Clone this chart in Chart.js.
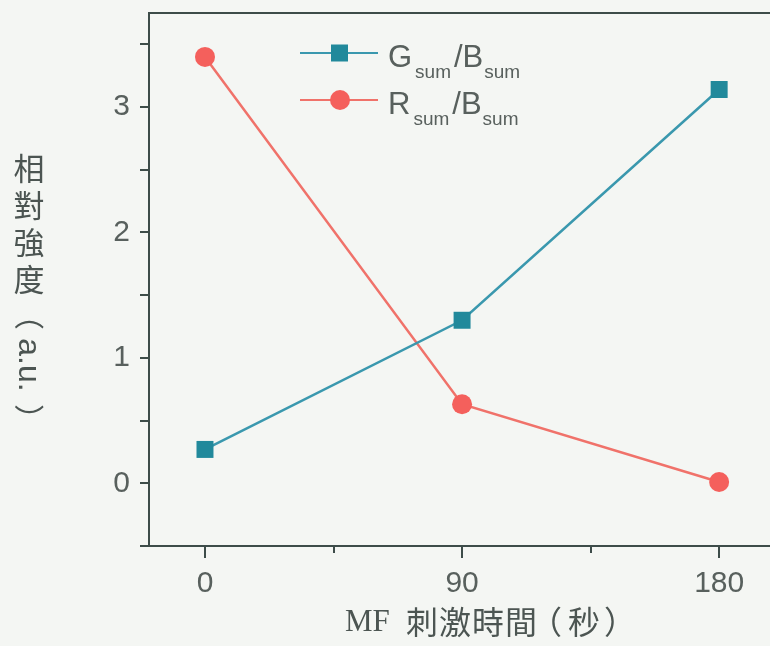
<!DOCTYPE html>
<html>
<head>
<meta charset="utf-8">
<script src="https://cdn.jsdelivr.net/npm/chart.js@4/dist/chart.umd.min.js"></script>
<style>
  html, body { margin: 0; padding: 0; background: #f4f6f3; overflow: hidden; }
  #wrap { width: 770px; height: 646px; overflow: hidden; }
</style>
</head>
<body>
<div id="wrap"><canvas id="chart" width="782" height="646"></canvas></div>
<script>
// stimulation time in seconds
const times = [0, 90, 180];
// relative intensity (a.u.)
const gOverB = [0.27, 1.30, 3.14];
const rOverB = [3.40, 0.63, 0.01];

const xTicks = [0, 45, 90, 135, 180];
const xLabels = ['0', '', '90', '', '180'];
const yTicks = [-0.5, 0, 0.5, 1, 1.5, 2, 2.5, 3, 3.5];
const yLabels = ['', '0', '', '1', '', '2', '', '3', ''];

const AXIS = '#3d4c49';
const TEXT = '#58605d';
const TEAL_LINE = '#3a98ae';
const TEAL_MARK = '#21899b';
const RED_LINE = '#f0726a';
const RED_MARK = '#f4605c';

const canvas = document.getElementById('chart');

function toPoints(xs, ys) {
    return xs.map((x, i) => ({x: x, y: ys[i]}));
}

function noPadding(scale) {
    scale.paddingTop = 0;
    scale.paddingBottom = 0;
    scale.paddingLeft = 0;
    scale.paddingRight = 0;
}

// background, axis frame bits, ticks, titles and legend
const extras = {
    id: 'extras',
    beforeDraw(chart) {
        const ctx = chart.ctx;
        ctx.save();
        ctx.fillStyle = '#f4f6f3';
        ctx.fillRect(0, 0, chart.width, chart.height);
        ctx.restore();
    },
    afterDraw(chart) {
        const ctx = chart.ctx;
        const area = chart.chartArea;
        const xs = chart.scales.x;
        const ys = chart.scales.y;
        ctx.save();
        ctx.strokeStyle = AXIS;
        ctx.lineWidth = 2;

        // top frame line and x axis stub left of y axis
        ctx.beginPath();
        ctx.moveTo(area.left - 1, area.top);
        ctx.lineTo(chart.width, area.top);
        ctx.moveTo(area.left - 9, area.bottom);
        ctx.lineTo(area.left, area.bottom);
        ctx.stroke();

        // ticks
        ctx.beginPath();
        yTicks.forEach(v => {
            const y = Math.round(ys.getPixelForValue(v));
            ctx.moveTo(area.left - 9, y);
            ctx.lineTo(area.left, y);
        });
        xTicks.forEach((v, i) => {
            const x = Math.round(xs.getPixelForValue(v));
            const len = xLabels[i] ? 12 : 7;
            ctx.moveTo(x, area.bottom);
            ctx.lineTo(x, area.bottom + len);
        });
        ctx.stroke();

        // y title: upright CJK characters, rotated bracket part
        ctx.fillStyle = '#4c5552';
        ctx.font = '31px "Noto Sans CJK TC"';
        ctx.textAlign = 'center';
        ctx.textBaseline = 'middle';
        ['相', '對', '強', '度'].forEach((ch, i) => {
            ctx.fillText(ch, 29, 168 + i * 37);
        });
        ctx.save();
        ctx.translate(29, 367);
        ctx.rotate(Math.PI / 2);
        ctx.font = '30px "Noto Sans CJK TC"';
        ctx.fillText('（', -52, 0);
        ctx.font = '32px "Liberation Sans"';
        ctx.fillText('a.u.', -2, 1);
        ctx.font = '30px "Noto Sans CJK TC"';
        ctx.fillText('）', 52, 0);
        ctx.restore();

        // x title
        ctx.font = '31px "Liberation Serif"';
        ctx.textAlign = 'left';
        ctx.fillText('MF', 345, 623);
        ctx.textAlign = 'center';
        ctx.font = '32px "Noto Sans CJK TC"';
        const xTitle = ['刺', '激', '時', '間', '（', '秒', '）'];
        const xTitlePos = [422, 455, 488, 521, 546, 584, 620];
        xTitle.forEach((ch, i) => ctx.fillText(ch, xTitlePos[i], 622));

        // legend
        const rows = [
            {main: 'G', color: TEAL_LINE, mark: TEAL_MARK, shape: 'rect', y: 53},
            {main: 'R', color: RED_LINE, mark: RED_MARK, shape: 'circle', y: 100}
        ];
        rows.forEach(r => {
            ctx.strokeStyle = r.color;
            ctx.lineWidth = 2;
            ctx.beginPath();
            ctx.moveTo(300, r.y);
            ctx.lineTo(378, r.y);
            ctx.stroke();
            ctx.fillStyle = r.mark;
            if (r.shape === 'rect') {
                ctx.fillRect(331, r.y - 8.5, 17, 17);
            } else {
                ctx.beginPath();
                ctx.arc(340, r.y, 10, 0, Math.PI * 2);
                ctx.fill();
            }
            ctx.fillStyle = TEXT;
            ctx.textAlign = 'left';
            ctx.textBaseline = 'alphabetic';
            let x = 388;
            const big = '31px "Liberation Sans"';
            const small = '19px "Liberation Sans"';
            ctx.font = big;
            ctx.fillText(r.main, x, r.y + 14);
            x += ctx.measureText(r.main).width + 3;
            ctx.font = small;
            ctx.fillText('sum', x, r.y + 25);
            x += ctx.measureText('sum').width + 3;
            ctx.font = big;
            ctx.fillText('/B', x, r.y + 14);
            x += ctx.measureText('/B').width + 1;
            ctx.font = small;
            ctx.fillText('sum', x, r.y + 25);
        });
        ctx.restore();
    }
};

const chart = new Chart(canvas, {
    type: 'line',
    data: {
        datasets: [
            {
                label: 'Gsum/Bsum',
                data: toPoints(times, gOverB),
                borderColor: TEAL_LINE,
                backgroundColor: TEAL_MARK,
                pointBackgroundColor: TEAL_MARK,
                pointBorderWidth: 0,
                pointStyle: 'rect',
                pointRadius: 12,
                borderWidth: 2.5,
                tension: 0
            },
            {
                label: 'Rsum/Bsum',
                data: toPoints(times, rOverB),
                borderColor: RED_LINE,
                backgroundColor: RED_MARK,
                pointBackgroundColor: RED_MARK,
                pointBorderWidth: 0,
                pointStyle: 'circle',
                pointRadius: 10,
                borderWidth: 2.5,
                tension: 0
            }
        ]
    },
    options: {
        responsive: false,
        animation: false,
        layout: {padding: {left: 0, top: 13, right: 0, bottom: 0}},
        plugins: {
            legend: {display: false},
            tooltip: {enabled: false}
        },
        scales: {
            x: {
                type: 'linear',
                min: -19.6,
                max: 197.8,
                afterBuildTicks: scale => {
                    scale.ticks = xTicks.map(v => ({value: v}));
                },
                afterFit: scale => { scale.height = 100; noPadding(scale); },
                ticks: {
                    autoSkip: false,
                    maxRotation: 0,
                    padding: 8,
                    color: TEXT,
                    font: {family: 'Liberation Sans', size: 30},
                    callback: (v, i) => xLabels[i]
                },
                grid: {drawOnChartArea: false, drawTicks: true, tickLength: 12, tickColor: 'transparent'},
                border: {color: AXIS, width: 2}
            },
            y: {
                min: -0.5,
                max: 3.75,
                afterBuildTicks: scale => {
                    scale.ticks = yTicks.map(v => ({value: v}));
                },
                afterFit: scale => { scale.width = 149; noPadding(scale); },
                ticks: {
                    autoSkip: false,
                    padding: 10,
                    color: TEXT,
                    font: {family: 'Liberation Sans', size: 30},
                    callback: (v, i) => yLabels[i]
                },
                grid: {drawOnChartArea: false, drawTicks: true, tickLength: 9, tickColor: 'transparent'},
                border: {color: AXIS, width: 2}
            }
        }
    },
    plugins: [extras]
});
</script>
</body>
</html>
